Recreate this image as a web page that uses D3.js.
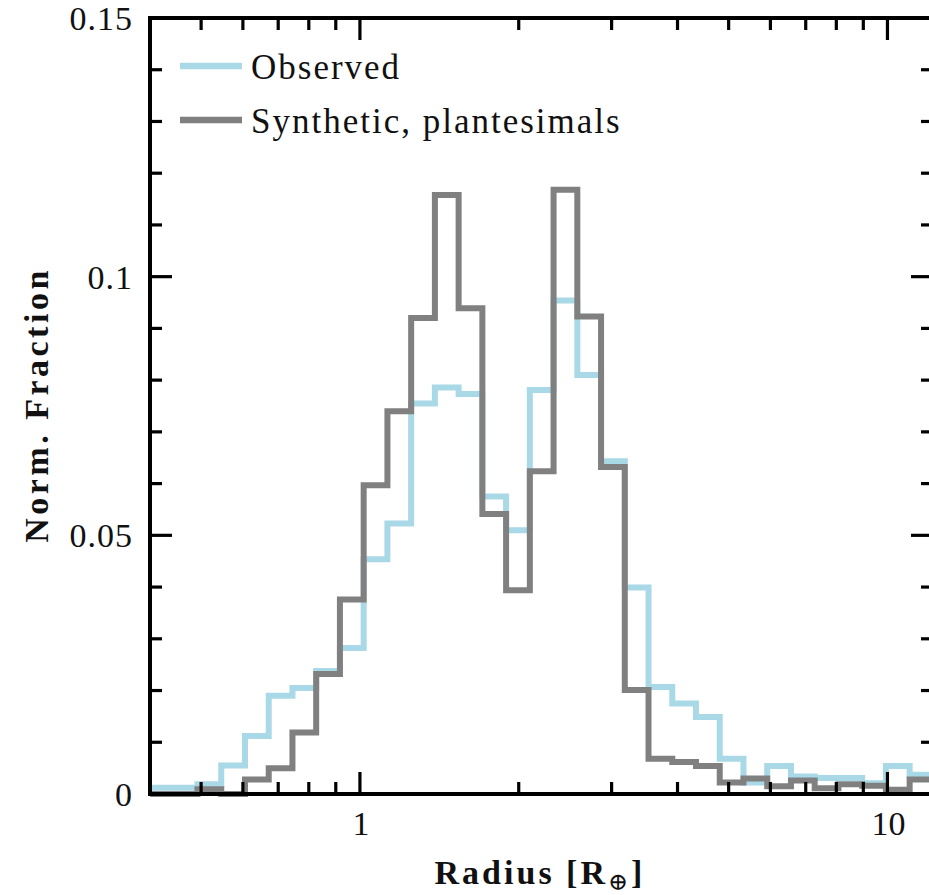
<!DOCTYPE html>
<html>
<head>
<meta charset="utf-8">
<script src="https://cdn.jsdelivr.net/npm/d3@7"></script>
<style>
  html, body { margin: 0; padding: 0; background: #fff; }
  svg { display: block; }
  text { font-family: "Liberation Serif", "DejaVu Serif", serif; fill: #111; }
</style>
</head>
<body>
<svg id="chart" width="929" height="895"></svg>
<script>
// Logarithmic radius bin edges (Earth radii)
const binEdges = [0.400, 0.4437, 0.4921, 0.5459, 0.6055, 0.6716, 0.7449, 0.8262, 0.9164,
  1.0165, 1.1275, 1.2506, 1.3871, 1.5385, 1.7065, 1.8928, 2.0994, 2.3286, 2.5829,
  2.8649, 3.1776, 3.5245, 3.9093, 4.3361, 4.8094, 5.3345, 5.9169, 6.5628, 7.2793,
  8.0740, 8.9554, 9.9331, 11.0175, 12.2203];

// Normalised fraction per bin
const observed = [0.0012, 0.0012, 0.0019, 0.0055, 0.0112, 0.0190, 0.0205, 0.0238, 0.0282,
  0.0454, 0.0523, 0.0755, 0.0786, 0.0773, 0.0575, 0.0510, 0.0781, 0.0954, 0.0810,
  0.0643, 0.0399, 0.0207, 0.0175, 0.0149, 0.0068, 0.0022, 0.0054, 0.0034, 0.0031,
  0.0031, 0.0021, 0.0054, 0.0037];

const synthetic = [0, 0, 0.0009, 0, 0.0028, 0.0050, 0.0119, 0.0232, 0.0376,
  0.0597, 0.0740, 0.0920, 0.1158, 0.0939, 0.0541, 0.0394, 0.0624, 0.1168, 0.0923,
  0.0632, 0.0201, 0.0068, 0.0062, 0.0054, 0.0022, 0.0030, 0.0015, 0.0026, 0.0011,
  0.0019, 0.0016, 0.0008, 0.0028];

const seriesNames = ["Observed", "Synthetic, plantesimals"];
const seriesColors = ["#a9d8e6", "#808080"];

const yMajorTicks = [0, 0.05, 0.1, 0.15];
const yTickLabels = ["0", "0.05", "0.1", "0.15"];
const xMajorTicks = [1, 10];
const xTickLabels = ["1", "10"];

const svg = d3.select("#chart");
const plotLeft = 150, plotRight = 933, plotTop = 18, plotBottom = 794;

const x = d3.scaleLog().domain([0.4, 12.2]).range([plotLeft, plotRight]);
const y = d3.scaleLinear().domain([0, 0.15]).range([plotBottom, plotTop]);

svg.append("defs").append("clipPath").attr("id", "plotClip")
  .append("rect").attr("x", plotLeft).attr("y", plotTop - 5)
  .attr("width", plotRight - plotLeft).attr("height", plotBottom - plotTop + 10);

// Step outline of a histogram
function stepPath(values) {
  const pts = [[x(binEdges[0]), y(0)]];
  values.forEach((v, i) => {
    pts.push([x(binEdges[i]), y(v)]);
    pts.push([x(binEdges[i + 1]), y(v)]);
  });
  pts.push([x(binEdges[values.length]), y(0)]);
  return d3.line()(pts);
}

const plot = svg.append("g").attr("clip-path", "url(#plotClip)");
[observed, synthetic].forEach((vals, i) => {
  plot.append("path")
    .attr("d", stepPath(vals))
    .attr("fill", "none")
    .attr("stroke", seriesColors[i])
    .attr("stroke-width", 6)
    .attr("stroke-linejoin", "miter")
    .attr("stroke-linecap", "butt");
});

// Ticks (inward, on all four sides)
const ticksG = svg.append("g").attr("stroke", "#000").attr("stroke-width", 3.2);
const majorLen = 22, minorLen = 12;

const yMinor = d3.range(0, 0.1501, 0.01).map(v => +v.toFixed(2))
  .filter(v => !yMajorTicks.some(m => Math.abs(m - v) < 1e-9));
const xMinor = [];
[0.1, 1, 10].forEach(dec => {
  for (let k = 2; k <= 9; k++) {
    const v = dec * k;
    if (v >= 0.4 && v <= 12.2) xMinor.push(v);
  }
});

function yTick(v, len) {
  ticksG.append("line").attr("x1", plotLeft).attr("x2", plotLeft + len).attr("y1", y(v)).attr("y2", y(v));
  ticksG.append("line").attr("x1", plotRight).attr("x2", plotRight - len).attr("y1", y(v)).attr("y2", y(v));
}
function xTick(v, len) {
  ticksG.append("line").attr("x1", x(v)).attr("x2", x(v)).attr("y1", plotBottom).attr("y2", plotBottom - len);
  ticksG.append("line").attr("x1", x(v)).attr("x2", x(v)).attr("y1", plotTop).attr("y2", plotTop + len);
}
yMajorTicks.forEach(v => yTick(v, majorLen));
yMinor.forEach(v => yTick(v, minorLen));
xMajorTicks.forEach(v => xTick(v, majorLen));
xMinor.forEach(v => xTick(v, minorLen));

// Frame
svg.append("rect").attr("x", plotLeft).attr("y", plotTop)
  .attr("width", plotRight - plotLeft).attr("height", plotBottom - plotTop)
  .attr("fill", "none").attr("stroke", "#000").attr("stroke-width", 4);

// Tick labels
svg.append("g").selectAll("text").data(yMajorTicks).join("text")
  .attr("x", 133).attr("y", d => y(d) + 12)
  .attr("text-anchor", "end").attr("font-size", 34).attr("letter-spacing", 1)
  .text((d, i) => yTickLabels[i]);

svg.append("g").selectAll("text").data(xMajorTicks).join("text")
  .attr("x", d => x(d) + 1).attr("y", 835)
  .attr("text-anchor", "middle").attr("font-size", 34)
  .text((d, i) => xTickLabels[i]);

// Axis titles
const xt = svg.append("text").attr("x", 540).attr("y", 884)
  .attr("text-anchor", "middle").attr("font-size", 34).attr("font-weight", "bold")
  .attr("letter-spacing", 3);
xt.append("tspan").text("Radius [R");
xt.append("tspan").attr("font-size", 24).attr("font-weight", "normal").attr("dy", 6).text("⊕");
xt.append("tspan").attr("dy", -6).text("]");

svg.append("text")
  .attr("transform", "translate(48,405) rotate(-90)")
  .attr("text-anchor", "middle").attr("font-size", 34).attr("font-weight", "bold")
  .attr("letter-spacing", 3.5)
  .text("Norm. Fraction");

// Legend
const legend = svg.append("g");
seriesNames.forEach((name, i) => {
  const ly = 66 + i * 54;
  legend.append("line").attr("x1", 180).attr("x2", 242).attr("y1", ly).attr("y2", ly)
    .attr("stroke", seriesColors[i]).attr("stroke-width", 6.5);
  legend.append("text").attr("x", 251).attr("y", ly + 13)
    .attr("font-size", 35).attr("letter-spacing", 2).text(name);
});
</script>
</body>
</html>
